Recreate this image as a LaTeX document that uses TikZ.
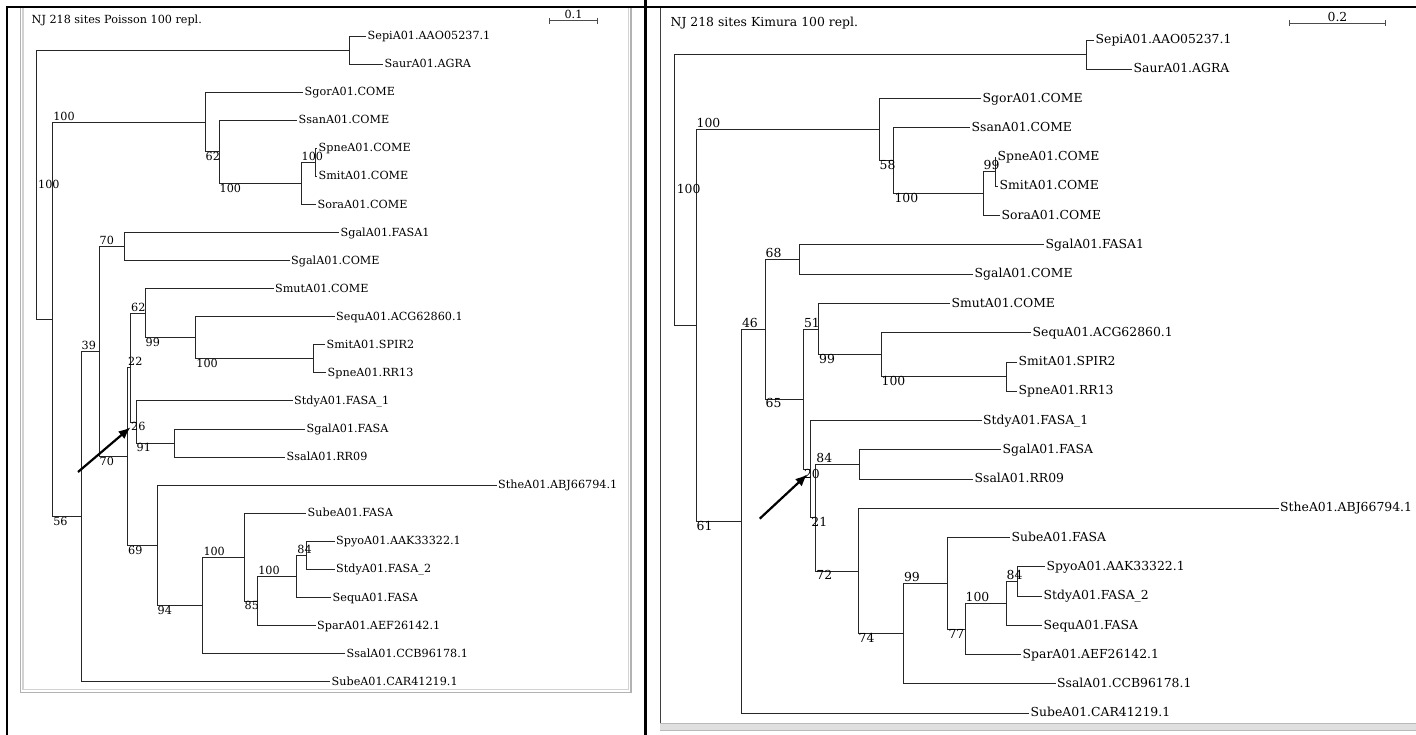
\documentclass[tikz,border=0pt]{standalone}
\usepackage{fontspec}
\setmainfont{DejaVu Serif}
\usetikzlibrary{arrows.meta}

\def\pfont{\fontsize{11.2}{13}\selectfont}
\def\kfont{\fontsize{12.4}{14}\selectfont}

\begin{document}
\begin{tikzpicture}[
  x=1pt, y=-1pt,
  branch/.style={line width=0.9pt, black!85},
  txt/.style={inner sep=1.5pt, text height=1.4ex, text depth=0pt},
  leaf/.style={txt, anchor=west},
  bsa/.style={txt, anchor=south west, inner xsep=0.5pt},
  bsb/.style={txt, anchor=north west, inner xsep=0.5pt},
  bsroot/.style={txt, anchor=west, inner xsep=2pt},
  scalebar/.style={black!70, line width=0.9pt, {Bar[width=6pt]}-{Bar[width=6pt]}},
  pointer/.style={line width=2.2pt, -{Latex[length=12pt, width=10pt]}}
]
\useasboundingbox (0,0) rectangle (1416,735);

% window frames
\draw[gray!60, line width=1.2pt] (20.5,7) -- (20.5,692.5) -- (631,692.5) -- (631,7);
\draw[gray!35, line width=1.2pt] (23,7) -- (23,689.5) -- (628.5,689.5) -- (628.5,7);
\draw[black!75, line width=1pt] (660.5,7) -- (660.5,723);
\fill[gray!25] (660,723) rectangle (1416,730);
\draw[gray!55, line width=1pt] (660,723) -- (1416,723) (660,730) -- (1416,730);
\draw[line width=2pt] (6.5,735) -- (6.5,7) -- (1416,7);
\draw[line width=3pt] (645.5,0) -- (645.5,735);

% ---- Poisson tree
\begin{scope}[font=\pfont]
\node[leaf] (pTitle) at (30,20) {NJ 218 sites Poisson 100 repl.};
\coordinate (pBarA) at (549,20.7);
\coordinate (pBarB) at (598,20.7);
\draw[scalebar] (pBarA) -- node[above, inner sep=1.5pt, text=black] (pScale) {0.1} (pBarB);

% inner nodes
\coordinate (pRoot) at (36,184.6);
\coordinate (pSS) at (349,50);
\coordinate (pA) at (52.6,319.3);
\coordinate (pB) at (205,122);
\coordinate (pC) at (219,151.8);
\coordinate (pD) at (301,183.4);
\coordinate (pE) at (315,162.3);
\coordinate (pF) at (81,516.5);
\coordinate (pG) at (99,351.5);
\coordinate (pH) at (124.5,246.5);
\coordinate (pI) at (127.5,456.4);
\coordinate (pJ) at (130.5,367.6);
\coordinate (pK) at (145,313.2);
\coordinate (pL) at (195.7,337.7);
\coordinate (pM) at (313.5,358.8);
\coordinate (pN) at (136,422);
\coordinate (pO) at (174.7,443);
\coordinate (pP) at (157,545.2);
\coordinate (pQ) at (202.8,605.3);
\coordinate (pR) at (244,557.1);
\coordinate (pS) at (257.6,601);
\coordinate (pT) at (296.7,576.4);
\coordinate (pU) at (306.5,555.3);

% leaves
\foreach \n/\x/\i/\t in {
  pSepi/366/1/SepiA01.AAO05237.1, pSaur/383/2/SaurA01.AGRA,
  pSgor/303/3/SgorA01.COME, pSsan/297/4/SsanA01.COME,
  pSpneC/317/5/SpneA01.COME, pSmitC/317/6/SmitA01.COME,
  pSora/316/7/SoraA01.COME, pSgalFa/339/8/SgalA01.FASA1,
  pSgalC/289.5/9/SgalA01.COME, pSmut/273.5/10/SmutA01.COME,
  pSequA/334.5/11/SequA01.ACG62860.1, pSmitS/325/12/SmitA01.SPIR2,
  pSpneR/326/13/SpneA01.RR13, pStdyA/292.5/14/StdyA01.FASA\_1,
  pSgalF/305/15/SgalA01.FASA, pSsalR/285/16/SsalA01.RR09,
  pSthe/496.5/17/StheA01.ABJ66794.1, pSubeF/306/18/SubeA01.FASA,
  pSpyo/334.5/19/SpyoA01.AAK33322.1, pStdyB/334.5/20/StdyA01.FASA\_2,
  pSequF/331/21/SequA01.FASA, pSpar/315.5/22/SparA01.AEF26142.1,
  pSsalC/345/23/SsalA01.CCB96178.1, pSubeC/330/24/SubeA01.CAR41219.1}
  \node[leaf] (\n) at (\x,{36+28.07*(\i-1)}) {\t};

% branches
\foreach \a/\b in {
  pRoot/pSS, pRoot/pA, pSS/pSepi.west, pSS/pSaur.west,
  pA/pB, pA/pF, pB/pSgor.west, pB/pC, pC/pSsan.west, pC/pD,
  pD/pE, pD/pSora.west, pE/pSpneC.west, pE/pSmitC.west,
  pF/pG, pF/pSubeC.west, pG/pH, pG/pI,
  pH/pSgalFa.west, pH/pSgalC.west, pI/pJ, pI/pP, pJ/pK, pJ/pN,
  pK/pSmut.west, pK/pL, pL/pSequA.west, pL/pM,
  pM/pSmitS.west, pM/pSpneR.west, pN/pStdyA.west, pN/pO,
  pO/pSgalF.west, pO/pSsalR.west, pP/pSthe.west, pP/pQ,
  pQ/pR, pQ/pSsalC.west, pR/pSubeF.west, pR/pS,
  pS/pT, pS/pSpar.west, pT/pU, pT/pSequF.west,
  pU/pSpyo.west, pU/pStdyB.west}
  \draw[branch] (\a) |- (\b);

% bootstrap values
\node[bsroot] (pRootBs) at (pRoot) {100};
\foreach \p/\c/\t in {pA/pB/100, pD/pE/100, pG/pH/70, pF/pG/39, pJ/pK/62,
  pI/pJ/22, pQ/pR/100, pS/pT/100, pT/pU/84}
  \node[bsa] (\p-\c) at (\p |- \c) {\t};
\foreach \p/\c/\t in {pB/pC/62, pC/pD/100, pK/pL/99, pL/pM/100, pJ/pN/26,
  pN/pO/91, pG/pI/70, pA/pF/56, pI/pP/69, pP/pQ/94, pR/pS/85}
  \node[bsb] (\p-\c) at (\p |- \c) {\t};

\coordinate (pTail) at (78,472);
\draw[pointer] (pTail) -- (pJ-pN.west);
\end{scope}

% ---- Kimura tree
\begin{scope}[font=\kfont]
\node[leaf] (kTitle) at (669,23.3) {NJ 218 sites Kimura 100 repl.};
\coordinate (kBarA) at (1289,23.3);
\coordinate (kBarB) at (1386,23.3);
\draw[scalebar] (kBarA) -- node[above, inner sep=1.5pt, text=black] (kScale) {0.2} (kBarB);

% inner nodes
\coordinate (kRoot) at (674.6,190);
\coordinate (kSS) at (1086.8,54.6);
\coordinate (kA) at (696,325.5);
\coordinate (kB) at (879,129.6);
\coordinate (kC) at (893.8,160.7);
\coordinate (kD) at (983,193.7);
\coordinate (kE) at (995,171.7);
\coordinate (kF) at (741.4,521.3);
\coordinate (kG) at (765,329.3);
\coordinate (kH) at (799.3,259.6);
\coordinate (kJ) at (803.3,399);
\coordinate (kK) at (818.5,329);
\coordinate (kL) at (881,354.7);
\coordinate (kM) at (1006,376.6);
\coordinate (kN) at (810.7,469.1);
\coordinate (kX) at (815.7,517.7);
\coordinate (kO) at (859.2,464.4);
\coordinate (kP) at (858,571);
\coordinate (kQ) at (903.4,633.6);
\coordinate (kR) at (947.8,583.3);
\coordinate (kS) at (965,629.1);
\coordinate (kT) at (1006,603.5);
\coordinate (kU) at (1017,581.5);

% leaves
\foreach \n/\x/\i/\t in {
  kSepi/1094/1/SepiA01.AAO05237.1, kSaur/1132/2/SaurA01.AGRA,
  kSgor/981/3/SgorA01.COME, kSsan/970/4/SsanA01.COME,
  kSpneC/996/5/SpneA01.COME, kSmitC/998/6/SmitA01.COME,
  kSora/1000/7/SoraA01.COME, kSgalFa/1044/8/SgalA01.FASA1,
  kSgalC/973/9/SgalA01.COME, kSmut/950/10/SmutA01.COME,
  kSequA/1031/11/SequA01.ACG62860.1, kSmitS/1017/12/SmitA01.SPIR2,
  kSpneR/1017/13/SpneA01.RR13, kStdyA/981.5/14/StdyA01.FASA\_1,
  kSgalF/1001/15/SgalA01.FASA, kSsalR/973/16/SsalA01.RR09,
  kSthe/1278.5/17/StheA01.ABJ66794.1, kSubeF/1010/18/SubeA01.FASA,
  kSpyo/1045/19/SpyoA01.AAK33322.1, kStdyB/1042/20/StdyA01.FASA\_2,
  kSequF/1042/21/SequA01.FASA, kSpar/1021/22/SparA01.AEF26142.1,
  kSsalC/1055.5/23/SsalA01.CCB96178.1, kSubeC/1029/24/SubeA01.CAR41219.1}
  \node[leaf] (\n) at (\x,{40+29.27*(\i-1)}) {\t};

% branches
\foreach \a/\b in {
  kRoot/kSS, kRoot/kA, kSS/kSepi.west, kSS/kSaur.west,
  kA/kB, kA/kF, kB/kSgor.west, kB/kC, kC/kSsan.west, kC/kD,
  kD/kE, kD/kSora.west, kE/kSpneC.west, kE/kSmitC.west,
  kF/kG, kF/kSubeC.west, kG/kH, kG/kJ,
  kH/kSgalFa.west, kH/kSgalC.west, kJ/kK, kJ/kN,
  kK/kSmut.west, kK/kL, kL/kSequA.west, kL/kM,
  kM/kSmitS.west, kM/kSpneR.west, kN/kStdyA.west, kN/kX,
  kX/kO, kX/kP, kO/kSgalF.west, kO/kSsalR.west,
  kP/kSthe.west, kP/kQ, kQ/kR, kQ/kSsalC.west,
  kR/kSubeF.west, kR/kS, kS/kT, kS/kSpar.west,
  kT/kU, kT/kSequF.west, kU/kSpyo.west, kU/kStdyB.west}
  \draw[branch] (\a) |- (\b);

% bootstrap values
\node[bsroot] (kRootBs) at (kRoot) {100};
\foreach \p/\c/\t in {kA/kB/100, kD/kE/99, kG/kH/68, kF/kG/46, kJ/kK/51,
  kX/kO/84, kQ/kR/99, kS/kT/100, kT/kU/84}
  \node[bsa] (\p-\c) at (\p |- \c) {\t};
\foreach \p/\c/\t in {kB/kC/58, kC/kD/100, kK/kL/99, kL/kM/100, kG/kJ/65,
  kJ/kN/20, kN/kX/21, kA/kF/61, kX/kP/72, kP/kQ/74, kR/kS/77}
  \node[bsb] (\p-\c) at (\p |- \c) {\t};

\coordinate (kTail) at (759.7,518.7);
\draw[pointer] (kTail) -- ([xshift=4pt]kJ-kN.west);
\end{scope}
\end{tikzpicture}
\end{document}
